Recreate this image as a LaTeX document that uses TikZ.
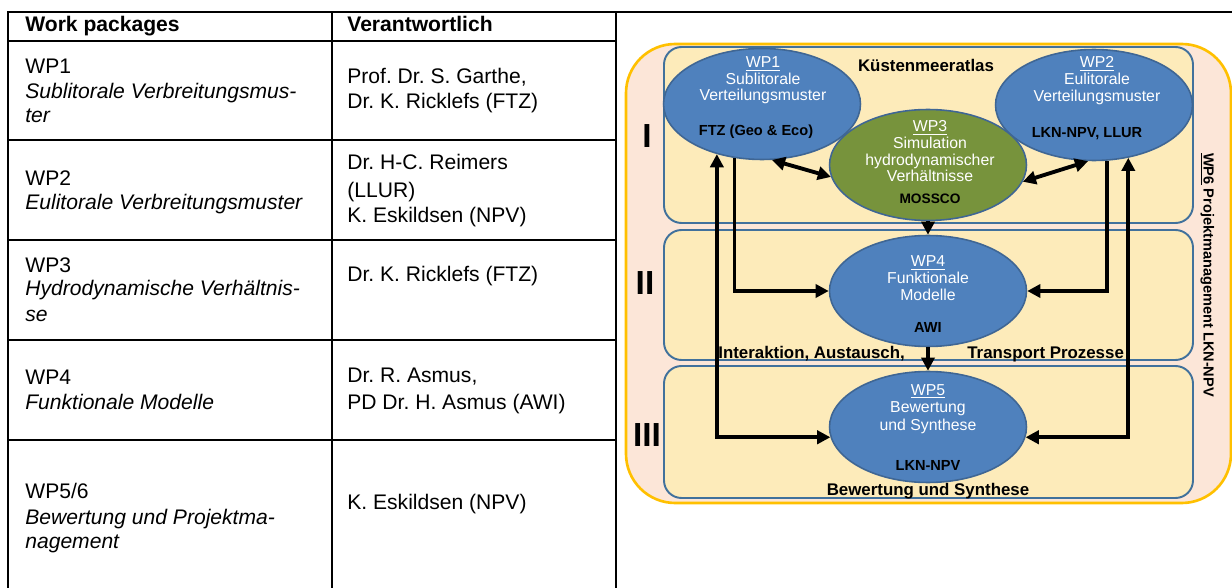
\documentclass[tikz,border=0pt]{standalone}
\usepackage{fontspec}
\setmainfont{Liberation Sans}
\frenchspacing
\usetikzlibrary{arrows.meta,shapes.geometric,calc,positioning}
\definecolor{wpblue}{HTML}{4F81BD}
\definecolor{wpedge}{HTML}{3F6694}
\definecolor{wpgreen}{HTML}{77933C}
\definecolor{lanefill}{HTML}{FDEBBA}
\definecolor{laneedge}{HTML}{41719C}
\definecolor{outerfill}{HTML}{FCE6D8}
\definecolor{wpgold}{HTML}{FFC000}
\tikzset{
  tabtext/.style={anchor=base west, inner sep=0pt, font=\fontsize{12}{14}\selectfont},
  tabhead/.style={tabtext, font=\fontsize{12}{14}\selectfont\bfseries},
  tabital/.style={tabtext, font=\fontsize{12}{14}\selectfont\itshape},
  wp/.style={ellipse, draw=wpedge, line width=0.9pt, fill=wpblue, inner sep=0pt,
    minimum width=3.94cm, minimum height=2.22cm},
  wptext/.style={text=white, anchor=base, inner sep=0pt, font=\fontsize{9}{10}\selectfont},
  wpwho/.style={anchor=base, inner sep=0pt, font=\fontsize{8.3}{10}\selectfont\bfseries},
  lane/.style={draw=laneedge, line width=1.1pt, fill=lanefill, rounded corners=10pt},
  lanetext/.style={anchor=base, inner sep=0pt, font=\fontsize{9.6}{11}\selectfont\bfseries},
  roman/.style={inner sep=0pt, font=\fontsize{19}{20}\selectfont\bfseries},
  tip/.tip={Triangle[length=7.5pt,width=7.5pt]},
  flow/.style={line width=2.2pt, -tip},
  flows/.style={line width=2.2pt, tip-tip}
}
\begin{document}
\begin{tikzpicture}[x=0.02cm, y=-0.02cm]
\useasboundingbox (0,0) rectangle (1232,588);
% table
\draw[line width=1.1pt] (8,588) -- (8,12) -- (1232,12);
\draw[line width=1.1pt] (332,12) -- (332,588);
\draw[line width=1.1pt] (616,12) -- (616,588);
\foreach \y in {41,140,240,340,440}
  \draw[line width=1.1pt] (8,\y) -- (616,\y);
\node[tabhead] (h1) at (25,32) {Work packages};
\node[tabhead] (h2) at (347,32) {Verantwortlich};
\node[tabtext] (r1a) at (25,74) {WP1};
\node[tabital] (r1b) at (25,99) {Sublitorale Verbreitungsmus-};
\node[tabital] (r1c) at (25,123) {ter};
\node[tabtext] (r1d) at (347,84) {Prof. Dr. S. Garthe,};
\node[tabtext] (r1e) at (347,109) {Dr. K. Ricklefs (FTZ)};
\node[tabtext] (r2a) at (25,186) {WP2};
\node[tabital] (r2b) at (25,210) {Eulitorale Verbreitungsmuster};
\node[tabtext] (r2c) at (347,170) {Dr. H-C. Reimers};
\node[tabtext] (r2d) at (347,197) {(LLUR)};
\node[tabtext] (r2e) at (347,223) {K. Eskildsen (NPV)};
\node[tabtext] (r3a) at (25,273) {WP3};
\node[tabital] (r3b) at (25,296) {Hydrodynamische Verhältnis-};
\node[tabital] (r3c) at (25,321) {se};
\node[tabtext] (r3d) at (347,281) {Dr. K. Ricklefs (FTZ)};
\node[tabtext] (r4a) at (25,384) {WP4};
\node[tabital] (r4b) at (25,409) {Funktionale Modelle};
\node[tabtext] (r4c) at (347,382) {Dr. R. Asmus,};
\node[tabtext] (r4d) at (347,409) {PD Dr. H. Asmus (AWI)};
\node[tabtext] (r5a) at (25,498) {WP5/6};
\node[tabital] (r5b) at (25,524) {Bewertung und Projektma-};
\node[tabital] (r5c) at (25,548) {nagement};
\node[tabtext] (r5d) at (347,509) {K. Eskildsen (NPV)};
% diagram
\draw[draw=wpgold, line width=1.5pt, fill=outerfill, rounded corners=28pt] (626,44) rectangle (1231,503);
\draw[lane] (664,47) rectangle (1193,223);
\draw[lane] (664,230) rectangle (1193,360);
\draw[lane] (664,366) rectangle (1193,498);
\node[roman] (lvl1) at (647,136) {I};
\node[roman] (lvl2) at (645,283) {II};
\node[roman] (lvl3) at (647,435) {III};
\node[lanetext] (atlas) at (926,72) {Küstenmeeratlas};
\node[lanetext, anchor=base west] (inter) at (718,358) {Interaktion, Austausch,};
\node[lanetext, anchor=base west] (trans) at (967,358) {Transport Prozesse};
\node[lanetext] (bew) at (928,495) {Bewertung und Synthese};
\node[rotate=-90, inner sep=0pt, font=\fontsize{8.3}{10}\selectfont\bfseries] (wp6) at (1207,275) {\underline{WP6} Projektmanagement LKN-NPV};
\node[wp] (wp1) at (762,104) {};
\node[wp] (wp2) at (1094,105) {};
\node[wp, fill=wpgreen] (wp3) at (928,165) {};
\node[wp] (wp4) at (928,291) {};
\node[wp] (wp5) at (928,427) {};
\node[wptext] (wp1a) at (763,68) {\underline{WP1}};
\node[wptext] (wp1b) at (763,85) {Sublitorale};
\node[wptext] (wp1c) at (763,101) {Verteilungsmuster};
\node[wpwho] (wp1d) at (756,136) {FTZ (Geo \& Eco)};
\node[wptext] (wp2a) at (1097,68) {\underline{WP2}};
\node[wptext] (wp2b) at (1097,85) {Eulitorale};
\node[wptext] (wp2c) at (1097,102) {Verteilungsmuster};
\node[wpwho] (wp2d) at (1087,138) {LKN-NPV, LLUR};
\node[wptext] (wp3a) at (930,132) {\underline{WP3}};
\node[wptext] (wp3b) at (930,149) {Simulation};
\node[wptext] (wp3c) at (930,166) {hydrodynamischer};
\node[wptext] (wp3d) at (930,182) {Verhältnisse};
\node[wpwho, font=\fontsize{7.8}{9}\selectfont\bfseries] (wp3e) at (930,204) {MOSSCO};
\node[wptext] (wp4a) at (928,267) {\underline{WP4}};
\node[wptext] (wp4b) at (928,283) {Funktionale};
\node[wptext] (wp4c) at (928,300) {Modelle};
\node[wpwho] (wp4d) at (928,333) {AWI};
\node[wptext] (wp5a) at (928,395) {\underline{WP5}};
\node[wptext] (wp5b) at (928,412) {Bewertung};
\node[wptext] (wp5c) at (928,430) {und Synthese};
\node[wpwho] (wp5d) at (928,470) {LKN-NPV};
\draw[flows] (wp1.-80) -- (wp3.-173);
\draw[flows] (wp3.-10) -- (wp2.-96);
\draw[flow] (wp3.south) -- (wp4.north);
\draw[flow] (wp4.south) -- (wp5.north);
\draw[flow] (wp1.-117) |- (wp4.west);
\draw[flow] (wp2.-77) |- (wp4.east);
\draw[flows] (wp1.-132) |- (wp5.-174);
\draw[flows] (wp2.-57) |- (wp5.-6);
\end{tikzpicture}
\end{document}
